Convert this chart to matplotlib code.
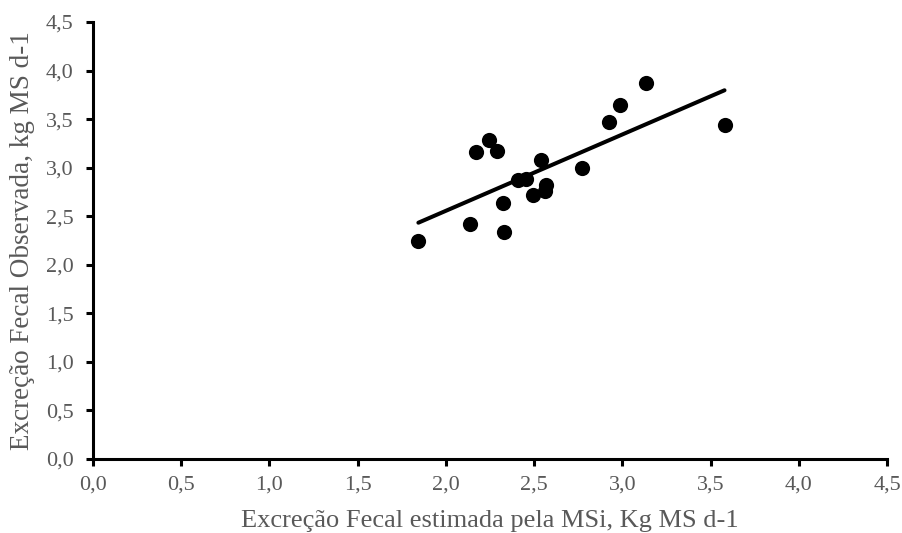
import matplotlib
matplotlib.use("Agg")
import matplotlib.pyplot as plt
import numpy as np
from matplotlib.ticker import FuncFormatter, MultipleLocator

x_est = [1.844, 2.137, 2.332, 2.322, 2.171, 2.243, 2.292, 2.538, 2.411, 2.455,
         2.493, 2.568, 2.564, 2.772, 2.927, 2.987, 3.135, 3.579]
y_obs = [2.245, 2.417, 2.334, 2.633, 3.162, 3.285, 3.172, 3.083, 2.870, 2.880,
         2.716, 2.819, 2.760, 3.000, 3.467, 3.646, 3.875, 3.443]
trend_slope = 0.786
trend_intercept = 0.984

xlabel = "Excreção Fecal estimada pela MSi, Kg MS d-1"
ylabel = "Excreção Fecal Observada, kg MS d-1"

plt.rcParams['font.family'] = ['Liberation Serif', 'DejaVu Serif']

fig = plt.figure(figsize=(9.02, 5.33), dpi=100)
ax = fig.add_axes([0.1031, 0.1388, 0.8803, 0.8199])

ax.scatter(x_est, y_obs, s=120, color='black', zorder=3, linewidths=0)
xs = np.array([min(x_est), max(x_est)])
ax.plot(xs, trend_slope * xs + trend_intercept, color='black', lw=2.9,
        solid_capstyle='round', zorder=2)

ax.set_xlim(0, 4.5)
ax.set_ylim(0, 4.5)
ax.xaxis.set_major_locator(MultipleLocator(0.5))
ax.yaxis.set_major_locator(MultipleLocator(0.5))
fmt = FuncFormatter(lambda v, p: f"{v:.1f}".replace('.', ','))
ax.xaxis.set_major_formatter(fmt)
ax.yaxis.set_major_formatter(fmt)

for s in ['top', 'right']:
    ax.spines[s].set_visible(False)
for s in ['left', 'bottom']:
    ax.spines[s].set_linewidth(2.2)
    ax.spines[s].set_color('black')

ax.tick_params(axis='both', direction='out', length=5, width=2.2, color='black',
               labelsize=16, labelcolor='#595959')
ax.tick_params(axis='x', pad=7)
ax.tick_params(axis='y', pad=9)
ax.set_xlabel(xlabel, fontsize=19, color='#595959', labelpad=11)
ax.set_ylabel(ylabel, fontsize=19.5, color='#595959', labelpad=8)

fig.savefig("out.png", dpi=100)
